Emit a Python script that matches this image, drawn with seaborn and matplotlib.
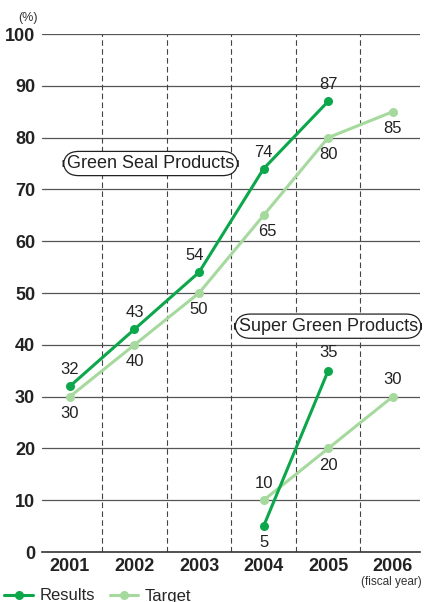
import matplotlib
matplotlib.use("Agg")
import matplotlib.pyplot as plt
import seaborn as sns
import pandas as pd

years = ["2001", "2002", "2003", "2004", "2005", "2006"]
green_results = [32, 43, 54, 74, 87, None]
green_target = [30, 40, 50, 65, 80, 85]
super_results = [None, None, None, 5, 35, None]
super_target = [None, None, None, 10, 20, 30]

dark = "#0ca64b"
light = "#a6d99e"

sns.set_style("white")
plt.rcParams['font.family'] = ['Liberation Sans', 'DejaVu Sans']

fig = plt.figure(figsize=(4.25, 6.02), dpi=100)
ax = fig.add_axes([0.099, 0.083, 0.889, 0.8605])

x = list(range(len(years)))
df = pd.DataFrame({"x": x, "gr": green_results, "gt": green_target,
                   "sr": super_results, "st": super_target})

for col, c in [("gt", light), ("st", light), ("gr", dark), ("sr", dark)]:
    d = df.dropna(subset=[col])
    sns.lineplot(data=d, x="x", y=col, ax=ax, color=c, lw=2.2, marker="o",
                 markersize=6.5, markeredgewidth=0, zorder=3)

# grid
for v in range(10, 101, 10):
    ax.axhline(v, color="#555555", lw=0.9, zorder=1)
for i in range(len(years) - 1):
    ax.axvline(i + 0.5, color="#444444", lw=0.8, ls=(0, (5, 3)), zorder=1)

ax.set_xlim(-0.43, 5.42)
ax.set_ylim(0, 100)
ax.set_yticks(range(0, 101, 10))
ax.set_xticks(x)
ax.set_xticklabels(years)
for s in ["top", "right", "left"]:
    ax.spines[s].set_visible(False)
ax.spines["bottom"].set_color("#333333")
ax.spines["bottom"].set_linewidth(1.2)
ax.tick_params(axis="y", length=0, pad=5, labelsize=13)
ax.tick_params(axis="x", length=0, pad=4, labelsize=13)
for t in ax.get_xticklabels() + ax.get_yticklabels():
    t.set_fontweight("bold")
    t.set_color("#222222")
ax.set_xlabel("")
ax.set_ylabel("")

# value labels (offsets in points)
def lab(xi, v, dy, dx=0):
    ax.annotate(str(v), (xi, v), xytext=(dx, dy), textcoords="offset points",
                ha="center", va="center", fontsize=12, color="#222222")

for i, v in enumerate(green_results):
    if v is not None:
        lab(i, v, 12, -3 if i == 2 else 0)
for i, v in enumerate(green_target):
    if v is not None:
        lab(i, v, -12, 3 if i == 3 else 0)
lab(3, 5, -12)
lab(4, 35, 13)
lab(3, 10, 12)
lab(4, 20, -12)
lab(5, 30, 12)

box = dict(boxstyle="round,pad=0.2,rounding_size=0.85", fc="white", ec="#222222", lw=0.9)
ax.text(1.25, 75, "Green Seal Products", ha="center", va="center",
        fontsize=13, color="#222222", bbox=box, zorder=5)
ax.text(4.0, 43.6, "Super Green Products", ha="center", va="center",
        fontsize=13, color="#222222", bbox=box, zorder=5)

fig.text(28 / 425, 1 - 18 / 602, "(%)", ha="center", va="center", fontsize=9, color="#333333")
fig.text(391 / 425, 1 - 582 / 602, "(fiscal year)", ha="center", va="center", fontsize=8.5, color="#333333")

# legend
handles = [plt.Line2D([], [], color=dark, lw=2.2, marker="o", markersize=6.5, markeredgewidth=0),
           plt.Line2D([], [], color=light, lw=2.2, marker="o", markersize=6.5, markeredgewidth=0)]
fig.legend(handles, ["Results", "Target"], loc="center left",
           bbox_to_anchor=(-0.025, 1 - 596 / 602), ncol=2, frameon=False,
           fontsize=12, handlelength=1.7, handletextpad=0.4, columnspacing=0.9)

fig.savefig("out.png", dpi=100)
